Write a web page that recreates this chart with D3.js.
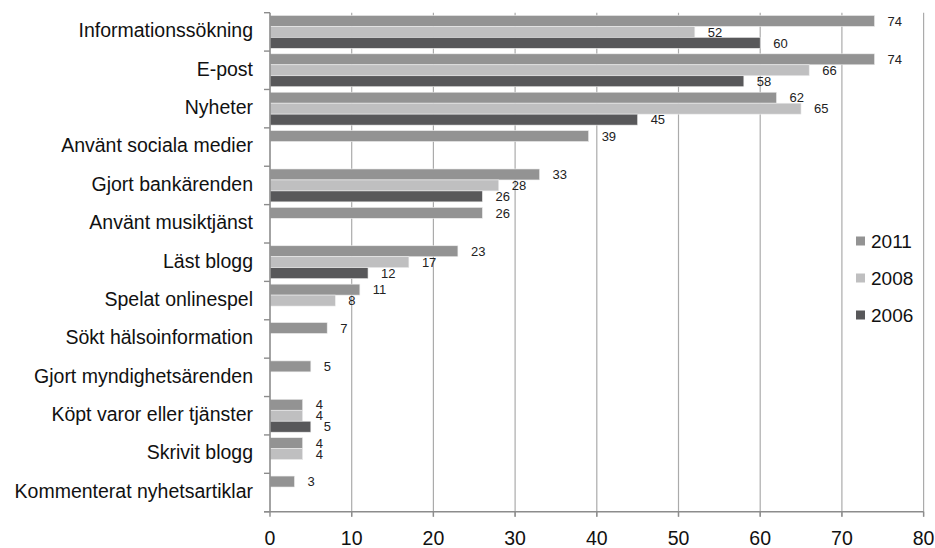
<!DOCTYPE html>
<html><head><meta charset="utf-8">
<script src="https://cdn.jsdelivr.net/npm/d3@7"></script>
<style>
html,body{margin:0;padding:0;background:#fff;}
svg{display:block;font-family:"Liberation Sans",Arial,sans-serif;}
</style></head>
<body><svg id="c" width="935" height="548"></svg>
<script>
const categories = ["Informationssökning","E-post","Nyheter","Använt sociala medier","Gjort bankärenden","Använt musiktjänst","Läst blogg","Spelat onlinespel","Sökt hälsoinformation","Gjort myndighetsärenden","Köpt varor eller tjänster","Skrivit blogg","Kommenterat nyhetsartiklar"];
const seriesNames = ["2011","2008","2006"];
const values2011 = [74,74,62,39,33,26,23,11,7,5,4,4,3];
const values2008 = [52,66,65,null,28,null,17,8,null,null,4,4,null];
const values2006 = [60,58,45,null,26,null,12,null,null,null,5,null,null];
const xTicks = [0,10,20,30,40,50,60,70,80];
const colors = ["#939393","#bfbfc0","#58585a"];

const seriesValues = [values2011, values2008, values2006];
const svg = d3.select("#c");
const m = {left:270, top:12.7, right:935-923.6, bottom:548-511.7};
const W = 935 - m.left - m.right, H = 548 - m.top - m.bottom;
const g = svg.append("g").attr("transform",`translate(${m.left},${m.top})`);

const x = d3.scaleLinear().domain([0,80]).range([0,W]);
const y = d3.scaleBand().domain(categories).range([0,H]).paddingInner(0).paddingOuter(0);
const y1 = d3.scaleBand().domain(seriesNames).range([0,y.bandwidth()]).paddingOuter(0.25).paddingInner(0);

// gridlines
g.append("g").selectAll("line").data(xTicks.slice(1)).join("line")
  .attr("x1",d=>x(d)).attr("x2",d=>x(d)).attr("y1",0).attr("y2",H+5)
  .attr("stroke","#ababab").attr("stroke-width",1.2);

// bars
categories.forEach((c,i)=>{
  seriesNames.forEach((s,j)=>{
    const v = seriesValues[j][i];
    if(v==null) return;
    const yy = y(c)+y1(s);
    g.append("rect").attr("x",0).attr("y",yy).attr("width",x(v)).attr("height",y1.bandwidth())
      .attr("fill",colors[j]).attr("stroke","#eeeeee").attr("stroke-width",0.6);
    g.append("text").attr("x",x(v)+13).attr("y",yy+y1.bandwidth()/2).attr("dy","0.36em")
      .attr("font-size",13).attr("fill","#222").text(v);
  });
});

// y axis
const yAxis = g.append("g");
yAxis.append("line").attr("x1",0).attr("x2",0).attr("y1",0).attr("y2",H).attr("stroke","#8c8c8c").attr("stroke-width",1.6);
const bounds = categories.map(c=>y(c)).concat([H]);
yAxis.selectAll("line.t").data(bounds).join("line").attr("class","t")
  .attr("x1",-6).attr("x2",0).attr("y1",d=>d).attr("y2",d=>d).attr("stroke","#8c8c8c").attr("stroke-width",1.4);
yAxis.selectAll("text").data(categories).join("text")
  .attr("x",-17).attr("y",d=>y(d)+y.bandwidth()/2-1.5).attr("dy","0.35em")
  .attr("text-anchor","end").attr("font-size",19.5).attr("fill","#111").text(d=>d);

// x axis
const xAxis = g.append("g").attr("transform",`translate(0,${H})`);
xAxis.append("line").attr("x1",-6).attr("x2",W).attr("stroke","#8c8c8c").attr("stroke-width",1.6);
xAxis.selectAll("line.t").data(xTicks).join("line").attr("class","t")
  .attr("x1",d=>x(d)).attr("x2",d=>x(d)).attr("y1",0).attr("y2",5).attr("stroke","#8c8c8c").attr("stroke-width",1.4);
xAxis.selectAll("text").data(xTicks).join("text")
  .attr("x",d=>x(d)).attr("y",26).attr("dy","0.35em").attr("text-anchor","middle")
  .attr("font-size",19.5).attr("fill","#111").text(d=>d);

// legend
const leg = svg.append("g");
seriesNames.forEach((s,j)=>{
  const cy = 241 + j*37;
  leg.append("rect").attr("x",856).attr("y",cy-4.5).attr("width",9).attr("height",9).attr("fill",colors[j]);
  leg.append("text").attr("x",871).attr("y",cy).attr("dy","0.35em").attr("font-size",19).attr("fill","#111").text(s);
});
</script></body></html>
